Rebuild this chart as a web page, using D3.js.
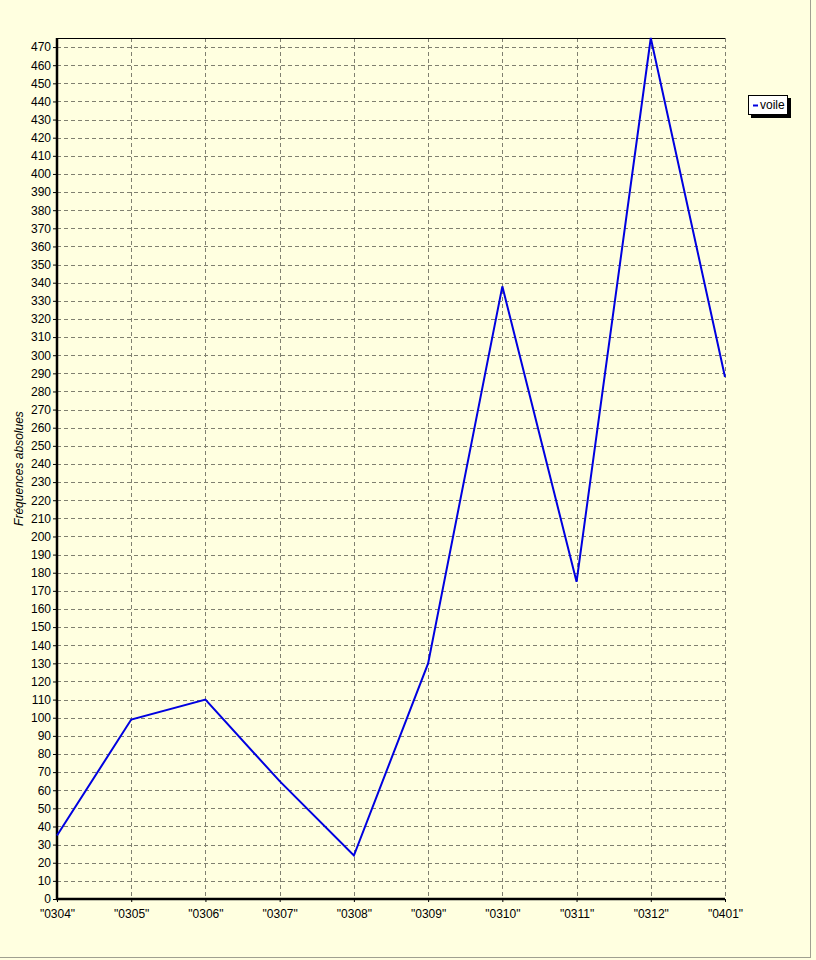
<!DOCTYPE html>
<html><head><meta charset="utf-8">
<script src="https://cdn.jsdelivr.net/npm/d3@7"></script>
<style>
html,body{margin:0;padding:0;background:#ffffe0;}
svg{display:block;}
text{font-family:"Liberation Sans",Arial,sans-serif;font-size:11px;fill:#000;}
</style></head>
<body>
<svg id="c" width="816" height="960"></svg>
<script>
const categories = ['"0304"','"0305"','"0306"','"0307"','"0308"','"0309"','"0310"','"0311"','"0312"','"0401"'];
const values = [35, 99, 110, 65, 24, 130, 338, 175, 475, 288];
const seriesName = "voile";
const yLabel = "Fréquences absolues";
const yTicks = d3.range(0, 471, 10);

const svg = d3.select("#c");
const W = 816, H = 960;
const m = {left:57, right:725, top:38, bottom:899};

// outer frame
svg.append("rect").attr("x",0).attr("y",0).attr("width",W).attr("height",H).attr("fill","#ffffe0");
svg.append("line").attr("x1",810.5).attr("x2",810.5).attr("y1",0).attr("y2",957).attr("stroke","#a0a090");
svg.append("line").attr("x1",0).attr("x2",811).attr("y1",957.5).attr("y2",957.5).attr("stroke","#a0a090");

const x = d3.scalePoint().domain(categories).range([m.left, m.right]);
const y = d3.scaleLinear().domain([0, 475]).range([m.bottom, m.top]);

// plot background
svg.append("rect").attr("x",m.left).attr("y",m.top).attr("width",m.right-m.left).attr("height",m.bottom-m.top).attr("fill","#ffffe0");

// horizontal grid
svg.append("g").selectAll("line").data(yTicks.filter(d=>d>0)).join("line")
  .attr("x1",m.left).attr("x2",m.right)
  .attr("y1",d=>Math.round(y(d))+0.5).attr("y2",d=>Math.round(y(d))+0.5)
  .attr("stroke","#808070").attr("stroke-dasharray","4,3");
// vertical grid
svg.append("g").selectAll("line").data(categories.slice(1)).join("line")
  .attr("x1",d=>Math.round(x(d))+0.5).attr("x2",d=>Math.round(x(d))+0.5)
  .attr("y1",m.top).attr("y2",m.bottom)
  .attr("stroke","#808070").attr("stroke-dasharray","4,3");

// top border
svg.append("line").attr("x1",m.left).attr("x2",m.right).attr("y1",m.top+0.5).attr("y2",m.top+0.5).attr("stroke","#000");

// y axis
const yAxis = d3.axisLeft(y).tickValues(yTicks).tickSize(4).tickPadding(2).tickFormat(d3.format("d"));
const gy = svg.append("g").attr("transform",`translate(${m.left},0)`).call(yAxis);
gy.select(".domain").remove();
gy.selectAll("text").style("font-family","Liberation Sans, Arial, sans-serif").style("font-size","12px");
gy.selectAll(".tick line").attr("stroke","#000");

// x axis
const xAxis = d3.axisBottom(x).tickSize(3).tickPadding(7);
const gx = svg.append("g").attr("transform",`translate(0,${m.bottom})`).call(xAxis);
gx.select(".domain").remove();
gx.selectAll("text").style("font-family","Liberation Sans, Arial, sans-serif").style("font-size","12px");

// thick axis lines
svg.append("line").attr("x1",m.left).attr("x2",m.left).attr("y1",m.top).attr("y2",m.bottom+1).attr("stroke","#000").attr("stroke-width",2.5);
svg.append("line").attr("x1",m.left-1).attr("x2",m.right).attr("y1",m.bottom).attr("y2",m.bottom).attr("stroke","#000").attr("stroke-width",2.5);

// y label
svg.append("text").attr("transform",`translate(23,${(m.top+m.bottom)/2}) rotate(-90)`)
  .attr("text-anchor","middle").style("font-style","italic").style("font-size","12px").text(yLabel);

// line
const line = d3.line().x((d,i)=>x(categories[i])).y(d=>y(d));
svg.append("path").datum(values).attr("d",line).attr("fill","none").attr("stroke","#0000e0").attr("stroke-width",2).attr("stroke-linejoin","miter");

// legend
const lg = svg.append("g").attr("transform","translate(748,95)");
lg.append("rect").attr("x",3).attr("y",3).attr("width",40).attr("height",20).attr("fill","#000");
lg.append("rect").attr("x",0.5).attr("y",0.5).attr("width",39).attr("height",19).attr("fill","#fff").attr("stroke","#000");
lg.append("line").attr("x1",5).attr("x2",10).attr("y1",10.5).attr("y2",10.5).attr("stroke","#0000e0").attr("stroke-width",2);
lg.append("text").attr("x",12).attr("y",14).style("font-size","12px").text(seriesName);
</script>
</body></html>
